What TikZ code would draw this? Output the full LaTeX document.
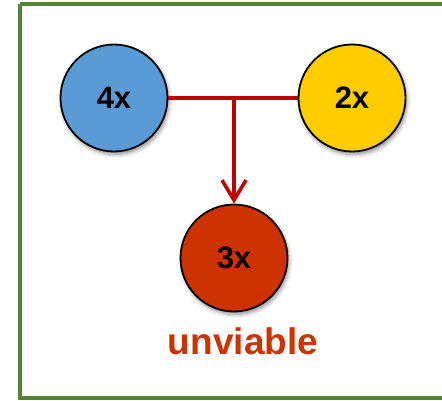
\documentclass[tikz,border=0pt]{standalone}
\usepackage{fontspec}
\setmainfont{Liberation Sans}
\usetikzlibrary{arrows.meta,shadows.blur}
\definecolor{framegreen}{HTML}{548235}
\definecolor{linkred}{HTML}{C00000}
\definecolor{ballblue}{HTML}{5B9BD5}
\definecolor{ballyellow}{HTML}{FFCC00}
\definecolor{ballred}{HTML}{CC3300}
\begin{document}
\begin{tikzpicture}[x=1pt,y=-1pt,
  ball/.style={circle, draw=black, line width=1.8pt, minimum size=107pt, inner sep=0pt,
    font=\fontsize{31}{31}\selectfont\bfseries,
    blur shadow={shadow xshift=1.5pt, shadow yshift=-3pt, shadow blur radius=4pt, shadow opacity=45}},
  link/.style={draw=linkred, line width=3.6pt},
  frame/.style={draw=framegreen, line width=3.2pt}]
  \useasboundingbox (0,0) rectangle (442,401);
  \draw[frame] (20,4) -- (460,4) (20,4) -- (20,398) -- (460,398);
  \node[ball, fill=ballblue] (four) at (114,98) {4x};
  \node[ball, fill=ballyellow] (two) at (352,98) {2x};
  \node[ball, fill=ballred] (three) at (234,258) {3x};
  \coordinate (join) at (234,98);
  \draw[link] (four.east) -- (two.west);
  \draw[link, -{Straight Barb[length=20pt,width=24pt,line width=3.6pt]}] (join) -- (three.north);
  \node[text=ballred, font=\fontsize{37}{37}\selectfont\bfseries] (label) at (243,341) {unviable};
\end{tikzpicture}
\end{document}
